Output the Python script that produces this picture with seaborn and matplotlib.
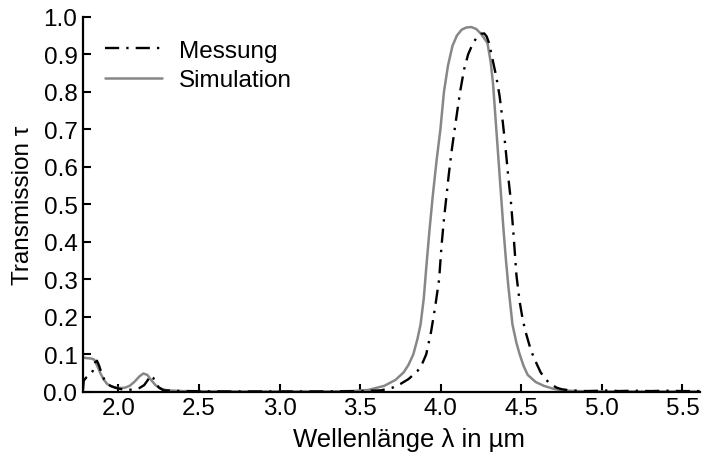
import matplotlib
matplotlib.use("Agg")
import matplotlib.pyplot as plt
import seaborn as sns
import pandas as pd

# Wavelength (µm) and transmission of the measured filter
wl_mess = [1.78, 1.785, 1.80, 1.82, 1.84, 1.855, 1.867, 1.88, 1.895, 1.91, 1.93, 1.95,
           1.98, 2.02, 2.06, 2.10, 2.13, 2.16, 2.18, 2.20, 2.215, 2.23, 2.25, 2.28,
           2.40, 2.70, 3.00, 3.30, 3.50, 3.63, 3.70, 3.75, 3.80, 3.855, 3.885, 3.91,
           3.94, 3.965, 3.99, 4.005, 4.02, 4.035, 4.05, 4.07, 4.093, 4.12, 4.145, 4.17,
           4.20, 4.225, 4.25, 4.27, 4.285, 4.30, 4.32, 4.345, 4.365, 4.385, 4.40, 4.42,
           4.435, 4.45, 4.46, 4.47, 4.49, 4.51, 4.53, 4.55, 4.57, 4.595, 4.62, 4.65,
           4.68, 4.72, 4.75, 4.80, 4.90, 5.00, 5.05, 5.10, 5.20, 5.30, 5.40, 5.50, 5.61]
tau_mess = [0.005, 0.030, 0.038, 0.045, 0.055, 0.078, 0.083, 0.070, 0.050, 0.035, 0.022, 0.016,
            0.011, 0.007, 0.005, 0.007, 0.010, 0.018, 0.030, 0.044, 0.038, 0.025, 0.012, 0.004,
            0.002, 0.001, 0.001, 0.001, 0.002, 0.004, 0.011, 0.021, 0.034, 0.055, 0.075, 0.100,
            0.160, 0.225, 0.300, 0.390, 0.460, 0.520, 0.580, 0.650, 0.720, 0.800, 0.860, 0.900,
            0.930, 0.946, 0.955, 0.956, 0.948, 0.930, 0.890, 0.840, 0.790, 0.720, 0.660, 0.570,
            0.510, 0.430, 0.370, 0.310, 0.240, 0.190, 0.155, 0.125, 0.100, 0.075, 0.052, 0.034,
            0.021, 0.011, 0.007, 0.004, 0.002, 0.003, 0.004, 0.002, 0.003, 0.002, 0.003, 0.002, 0.002]

# Wavelength (µm) and simulated transmission
wl_sim = [1.78, 1.80, 1.83, 1.85, 1.87, 1.89, 1.91, 1.93, 1.96, 2.00, 2.04, 2.07,
          2.10, 2.13, 2.155, 2.18, 2.20, 2.23, 2.26, 2.30, 2.40, 2.60, 3.00, 3.30,
          3.45, 3.55, 3.65, 3.72, 3.77, 3.80, 3.83, 3.855, 3.875, 3.895, 3.91, 3.93,
          3.95, 3.975, 3.998, 4.02, 4.045, 4.073, 4.10, 4.13, 4.16, 4.19, 4.22, 4.25,
          4.27, 4.29, 4.31, 4.325, 4.345, 4.36, 4.375, 4.39, 4.405, 4.42, 4.445, 4.47,
          4.49, 4.515, 4.54, 4.59, 4.64, 4.70, 4.75, 4.85, 5.00, 5.30, 5.61]
tau_sim = [0.092, 0.090, 0.089, 0.086, 0.068, 0.048, 0.032, 0.021, 0.014, 0.010, 0.011, 0.016,
           0.027, 0.041, 0.049, 0.045, 0.033, 0.018, 0.009, 0.004, 0.002, 0.001, 0.001, 0.001,
           0.002, 0.005, 0.016, 0.032, 0.052, 0.072, 0.100, 0.140, 0.180, 0.250, 0.330, 0.430,
           0.520, 0.620, 0.700, 0.800, 0.870, 0.923, 0.950, 0.966, 0.972, 0.973, 0.968, 0.955,
           0.943, 0.930, 0.880, 0.820, 0.700, 0.610, 0.520, 0.430, 0.350, 0.280, 0.180, 0.130,
           0.100, 0.068, 0.045, 0.026, 0.016, 0.008, 0.004, 0.002, 0.001, 0.001, 0.001]

x_ticks = [2.0, 2.5, 3.0, 3.5, 4.0, 4.5, 5.0, 5.5]
y_ticks = [0.0, 0.1, 0.2, 0.3, 0.4, 0.5, 0.6, 0.7, 0.8, 0.9, 1.0]

FS = 17.5

sns.set_theme(style="ticks")
plt.rcParams["font.family"] = ["Liberation Sans", "DejaVu Sans"]
plt.rcParams["font.size"] = FS
plt.rcParams["text.color"] = "black"
plt.rcParams["axes.labelcolor"] = "black"

df_mess = pd.DataFrame({"wl": wl_mess, "tau": tau_mess})
df_sim = pd.DataFrame({"wl": wl_sim, "tau": tau_sim})

fig = plt.figure(figsize=(7.03, 4.60), dpi=100)
ax = fig.add_axes([0.118, 0.146, 0.878, 0.815])

sns.lineplot(data=df_sim, x="wl", y="tau", ax=ax, color="#878787", lw=1.8,
             estimator=None, sort=False, label="Simulation", zorder=2)
sns.lineplot(data=df_mess, x="wl", y="tau", ax=ax, color="black", lw=1.7,
             estimator=None, sort=False, label="Messung", zorder=3,
             linestyle=(0, (6, 3, 1, 3)))

ax.set_xlim(1.78, 5.61)
ax.set_ylim(0.0, 1.0)
ax.set_xticks(x_ticks)
ax.set_yticks(y_ticks)
ax.set_xticklabels([f"{v:.1f}" for v in x_ticks], fontsize=FS)
ax.set_yticklabels([f"{v:.1f}" for v in y_ticks], fontsize=FS)
ax.tick_params(direction="in", length=6, width=1.5, colors="black",
               labelcolor="black", pad=4)
for side in ("top", "right"):
    ax.spines[side].set_visible(False)
for side in ("left", "bottom"):
    ax.spines[side].set_linewidth(1.6)
    ax.spines[side].set_color("black")

ax.set_xlabel("Wellenlänge λ in µm", fontsize=18.5, color="black")
ax.xaxis.set_label_coords(0.528, -0.095)
ax.set_ylabel("Transmission τ", fontsize=FS, labelpad=7, color="black")

handles, labels = ax.get_legend_handles_labels()
order = [labels.index("Messung"), labels.index("Simulation")]
ax.legend([handles[i] for i in order], [labels[i] for i in order],
          loc="upper left", bbox_to_anchor=(0.0, 0.997), frameon=False,
          fontsize=FS, handlelength=2.35, handletextpad=0.7, labelspacing=0.3,
          labelcolor="black")

fig.savefig("out.png", dpi=100)
